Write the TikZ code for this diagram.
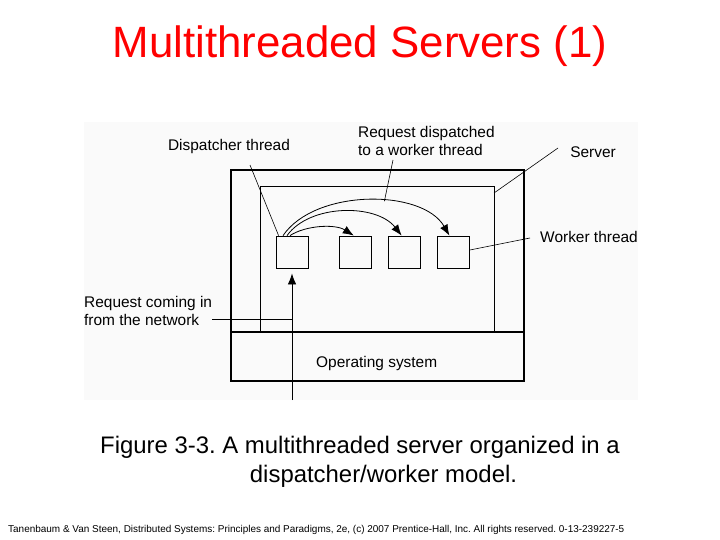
\documentclass[tikz,border=0pt]{standalone}
\usepackage{fontspec}
\setmainfont{Liberation Sans}
\usetikzlibrary{arrows.meta,positioning}
\frenchspacing

\begin{document}
\begin{tikzpicture}[
    x=1bp,
    y=-1bp,
    every node/.style={font=\fontsize{15.5}{18}\selectfont, inner sep=0pt},
    thread/.style={draw, line width=0.8bp, minimum width=32bp, minimum height=32bp},
    lbl/.style={line width=0.6bp},
    req/.style={line width=0.8bp, -{Latex[length=11bp,width=8.5bp]}}
]

    \useasboundingbox (0,0) rectangle (720,540);

    \node[text=red, font=\fontsize{44}{48}\selectfont] (title) at (360,46) {Multithreaded Servers (1)};

    % figure area
    \fill[black!2] (84,122) rectangle (638,400);
    \draw[line width=1.8bp] (231,170) rectangle (524,381);
    \draw[line width=1.2bp] (231,332) -- (524,332);
    \draw[line width=1bp] (260,332) -- (260,187) -- (494,187) -- (494,332);
    \node[anchor=west] (os) at (316,364) {Operating system};

    % threads
    \node[thread] (disp) at (292,252) {};
    \node[thread, right=31bp of disp] (w1) {};
    \node[thread, right=16bp of w1] (w2) {};
    \node[thread, right=16bp of w2] (w3) {};

    \draw[req] ([xshift=-2bp]disp.north) .. controls +(15,-10) and +(-19,-12) .. ([xshift=-2bp]w1.north);
    \draw[req] ([xshift=-5bp]disp.north) .. controls +(23,-32) and +(-25,-32) .. ([xshift=-3bp]w2.north);
    \draw[req] ([xshift=-9bp]disp.north) .. controls +(32,-47) and +(-27,-47) .. ([xshift=-4bp]w3.north) coordinate[pos=0.58] (hit);

    % labels
    \node (displbl) at (229,147) {Dispatcher thread};
    \coordinate (dispend) at (250,165);
    \draw[lbl] (dispend) -- ([xshift=3bp]disp.north west);

    \node[anchor=west, align=left] (reqlbl) at (358,141) {Request dispatched\\to a worker thread};
    \coordinate (reqend) at (393,160);
    \draw[lbl] (reqend) -- (hit);

    \node (srvlbl) at (593,152) {Server};
    \coordinate (srvend) at (558,148);
    \coordinate (srvhit) at (494,193);
    \draw[lbl] (srvend) -- (srvhit);

    \node (wrklbl) at (589,237) {Worker thread};
    \coordinate (wrkend) at (530,238);
    \draw[lbl] (wrkend) -- ([yshift=2bp]w3.east);

    \node[anchor=west, align=left] (netlbl) at (84,311) {Request coming in\\from the network};
    \coordinate (netend) at (212,319);
    \coordinate (netin) at (292,400);
    \draw[lbl] (netend) -- (netend -| netin);
    \draw[req] (netin) -- ([yshift=-5bp]disp.south);

    \node[font=\fontsize{24}{29}\selectfont] (caption) at (360,447) {Figure 3-3. A multithreaded server organized in a};
    \node[font=\fontsize{24}{29}\selectfont] (caption2) at (383.5,476) {dispatcher/worker model.};

    \node[anchor=west, font=\fontsize{10}{11}\selectfont] (credit) at (8,530) {Tanenbaum \& Van Steen, Distributed Systems: Principles and Paradigms, 2e, (c) 2007 Prentice-Hall, Inc. All rights reserved. 0-13-239227-5};

\end{tikzpicture}
\end{document}
